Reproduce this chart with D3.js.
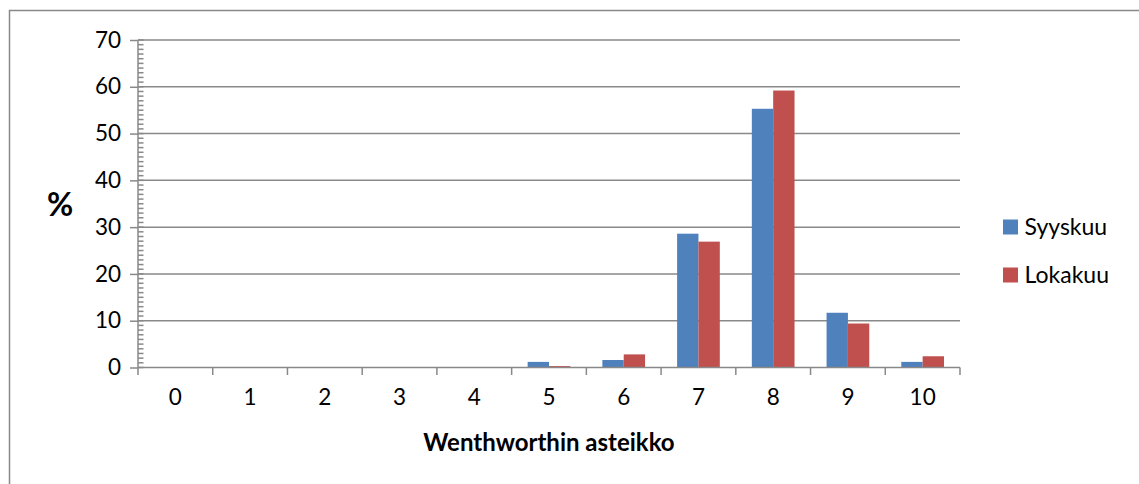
<!DOCTYPE html>
<html>
<head>
<meta charset="utf-8">
<script src="https://cdn.jsdelivr.net/npm/d3@7"></script>
<style>
  html, body { margin: 0; padding: 0; background: #fff; }
  svg { display: block; font-family: Lato, "Open Sans", sans-serif; }
</style>
</head>
<body>
<svg id="chart" width="1139" height="484"></svg>
<script>
// Wentworth scale classes and share (%) of samples per class
const categories = ["0", "1", "2", "3", "4", "5", "6", "7", "8", "9", "10"];
const seriesNames = ["Syyskuu", "Lokakuu"];
const syyskuu = [0, 0, 0, 0, 0, 1.2, 1.6, 28.6, 55.3, 11.7, 1.2];
const lokakuu = [0, 0, 0, 0, 0, 0.3, 2.8, 26.9, 59.2, 9.4, 2.4];
const yTicks = [0, 10, 20, 30, 40, 50, 60, 70];
const colors = ["#4F81BD", "#C0504D"];

const svg = d3.select("#chart");
const grey = "#898989";

// outer chart frame
svg.append("rect")
  .attr("x", 9.5).attr("y", 10.5)
  .attr("width", 1140).attr("height", 480)
  .attr("fill", "#fff").attr("stroke", grey).attr("stroke-width", 1.5);

const plot = { left: 138, right: 960, top: 40, bottom: 367.5 };

const x = d3.scaleBand().domain(categories).range([plot.left, plot.right]).padding(0);
const y = d3.scaleLinear().domain([0, 70]).range([plot.bottom, plot.top]);

// bars fill 2/3.5 of each class band (gap width 150 %)
const bw = x.bandwidth() / 3.5;
const xs = d3.scaleBand().domain(seriesNames)
  .range([x.bandwidth() / 2 - bw, x.bandwidth() / 2 + bw]).padding(0);

// horizontal gridlines
svg.append("g").selectAll("line").data(yTicks.filter(d => d > 0)).join("line")
  .attr("x1", plot.left).attr("x2", plot.right)
  .attr("y1", d => y(d)).attr("y2", d => y(d))
  .attr("stroke", grey).attr("stroke-width", 1.5);

// bars
const series = [syyskuu, lokakuu];
series.forEach((vals, si) => {
  svg.append("g").selectAll("rect")
    .data(categories.map((c, i) => ({ c, v: vals[i] })))
    .join("rect")
    .attr("x", d => x(d.c) + xs(seriesNames[si]))
    .attr("width", xs.bandwidth())
    .attr("y", d => y(d.v))
    .attr("height", d => y(0) - y(d.v))
    .attr("fill", colors[si]);
});

// y axis with major ticks outside and minor ticks inside
const yAxis = svg.append("g").attr("transform", `translate(${plot.left},0)`)
  .call(d3.axisLeft(y).tickValues(yTicks).tickSize(8).tickPadding(9).tickFormat(d3.format("d")));
yAxis.select(".domain").remove();
yAxis.selectAll(".tick line").attr("stroke", grey).attr("stroke-width", 1.5);
yAxis.selectAll(".tick text").attr("font-size", 22.5).attr("fill", "#000").attr("font-family", "Lato, sans-serif");

svg.append("g").selectAll("line").data(d3.range(0, 71, 1)).join("line")
  .attr("x1", plot.left).attr("x2", plot.left + 5.5)
  .attr("y1", d => y(d)).attr("y2", d => y(d))
  .attr("stroke", grey).attr("stroke-width", 1.5);

svg.append("line")
  .attr("x1", plot.left).attr("x2", plot.left)
  .attr("y1", plot.top).attr("y2", plot.bottom)
  .attr("stroke", grey).attr("stroke-width", 1.5);

// x axis: baseline, boundary ticks, class labels
svg.append("line")
  .attr("x1", plot.left).attr("x2", plot.right)
  .attr("y1", plot.bottom).attr("y2", plot.bottom)
  .attr("stroke", grey).attr("stroke-width", 1.5);

const boundaries = categories.map(c => x(c)).concat([plot.right]);
svg.append("g").selectAll("line").data(boundaries).join("line")
  .attr("x1", d => d).attr("x2", d => d)
  .attr("y1", plot.bottom).attr("y2", plot.bottom + 7.5)
  .attr("stroke", grey).attr("stroke-width", 1.5);

svg.append("g").selectAll("text").data(categories).join("text")
  .attr("x", d => x(d) + x.bandwidth() / 2)
  .attr("y", 405)
  .attr("text-anchor", "middle")
  .attr("font-size", 22.5)
  .attr("fill", "#000")
  .text(d => d);

// axis titles
svg.append("text")
  .attr("x", (plot.left + plot.right) / 2).attr("y", 451)
  .attr("text-anchor", "middle")
  .attr("font-size", 24).attr("font-weight", "bold")
  .text("Wenthworthin asteikko");

svg.append("text")
  .attr("x", 60).attr("y", 216)
  .attr("text-anchor", "middle")
  .attr("font-size", 32).attr("font-weight", "bold")
  .text("%");

// legend
const legend = svg.append("g").selectAll("g").data(seriesNames).join("g")
  .attr("transform", (d, i) => `translate(1003, ${219.5 + i * 48})`);
legend.append("rect").attr("width", 15).attr("height", 15)
  .attr("fill", (d, i) => colors[i]);
legend.append("text").attr("x", 21.5).attr("y", 15.5)
  .attr("font-size", 23).attr("fill", "#000")
  .text(d => d);
</script>
</body>
</html>
